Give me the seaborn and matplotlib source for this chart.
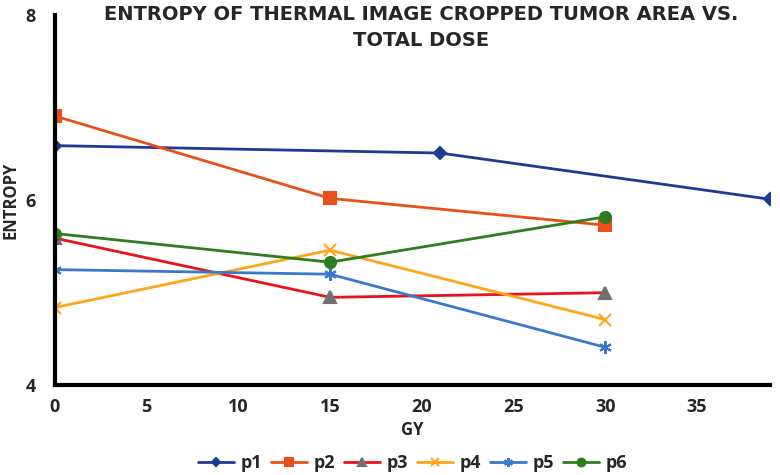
import pandas as pd
import matplotlib
matplotlib.use('Agg')
import matplotlib.pyplot as plt
import seaborn as sns

# valores
series = ['p1', 'p2', 'p3', 'p4', 'p5', 'p6']
p1_gy = [0, 21, 39]
p1_ent = [6.59, 6.51, 6.01]
dose_gy = [0, 15, 30]
p2_ent = [6.91, 6.02, 5.73]
p3_ent = [5.59, 4.95, 5.00]
p4_ent = [4.84, 5.46, 4.71]
p5_ent = [5.25, 5.20, 4.41]
p6_ent = [5.64, 5.33, 5.82]

linhas = [
    ('p1', p1_gy, p1_ent, '#1F3A93', 'D', '#1F3A93', 6.5),
    ('p2', dose_gy, p2_ent, '#E8501A', 's', '#E8501A', 8),
    ('p3', dose_gy, p3_ent, '#E8141B', '^', '#707070', 8),
    ('p4', dose_gy, p4_ent, '#FFA51A', 'x', '#FFA51A', 8),
    ('p5', dose_gy, p5_ent, '#3A78CC', (6, 2, 0), '#3A78CC', 9),
    ('p6', dose_gy, p6_ent, '#2E7D1E', 'o', '#2E7D1E', 8),
]

sns.set_style("white")
plt.rcParams['font.family'] = ['Open Sans', 'DejaVu Sans']

fig = plt.figure(figsize=(7.8, 4.75), dpi=100)
ax = fig.add_axes([0.0705, 0.189, 0.917, 0.779])

for nome, xs, ys, cor, marc, cor_m, ms in linhas:
    df = pd.DataFrame({'GY': xs, 'Entropy': ys})
    sns.lineplot(data=df, x='GY', y='Entropy', ax=ax, color=cor, linewidth=2,
                 marker=marc, markersize=ms, markerfacecolor=cor_m,
                 markeredgecolor=cor_m, markeredgewidth=1.5, label=nome)

ax.set_xlim(0, 39)
ax.set_ylim(4, 8)
ax.set_xticks(range(0, 40, 5))
ax.set_yticks([4, 6, 8])
for s in ['top', 'right']:
    ax.spines[s].set_visible(False)
for s in ['left', 'bottom']:
    ax.spines[s].set_linewidth(3)
    ax.spines[s].set_color('black')
ax.tick_params(axis='both', length=0, labelsize=13)
ax.tick_params(axis='x', pad=9)
ax.tick_params(axis='y', pad=14)
for lbl in ax.get_xticklabels() + ax.get_yticklabels():
    lbl.set_fontweight('bold')

ax.set_xlabel('GY', fontsize=12, fontweight='bold', labelpad=4)
ax.set_ylabel('ENTROPY', fontsize=12, fontweight='bold', labelpad=4)
fig.text(0.54, 0.99, 'ENTROPY OF THERMAL IMAGE CROPPED TUMOR AREA VS.\nTOTAL DOSE',
         ha='center', va='top', fontsize=14, fontweight='bold', linespacing=1.45,
         family=['DejaVu Sans'])

leg = ax.legend(loc='center', bbox_to_anchor=(0.5, -0.21), ncol=6, frameon=False,
                fontsize=13, handlelength=2.0, columnspacing=0.5, handletextpad=0.35,
                markerscale=0.7)
for t in leg.get_texts():
    t.set_fontweight('bold')

fig.savefig('out.png', dpi=100)
